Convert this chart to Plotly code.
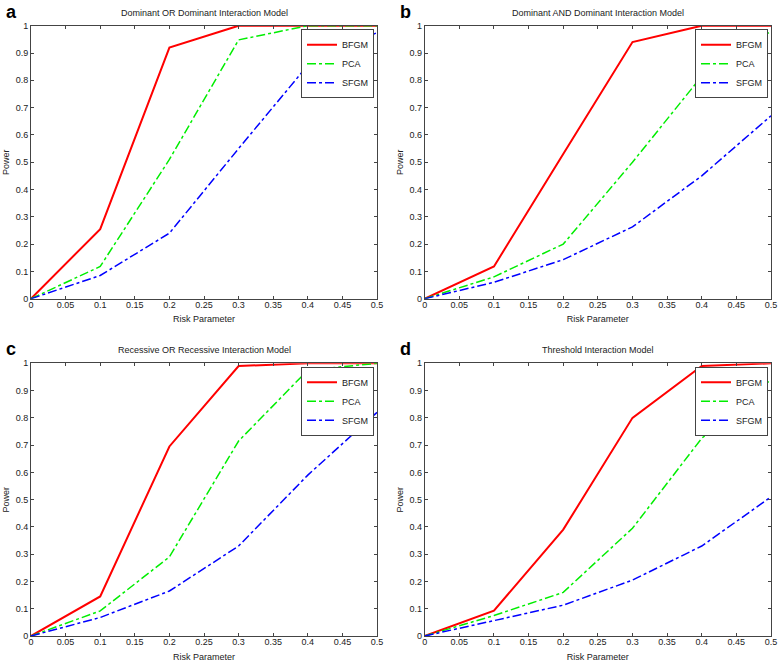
import plotly.graph_objects as go

risk = [0, 0.1, 0.2, 0.3, 0.4, 0.5]
methods = ["BFGM", "PCA", "SFGM"]

titles = [
    "Dominant OR Dominant Interaction Model",
    "Dominant AND Dominant Interaction Model",
    "Recessive OR Recessive Interaction Model",
    "Threshold Interaction Model",
]
letters = ["a", "b", "c", "d"]

a_bfgm = [0, 0.255, 0.92, 1.0, 1.0, 1.0]
a_pca = [0, 0.118, 0.51, 0.948, 1.0, 1.0]
a_sfgm = [0, 0.085, 0.24, 0.55, 0.855, 0.975]

b_bfgm = [0, 0.118, 0.53, 0.94, 1.0, 1.0]
b_pca = [0, 0.08, 0.2, 0.5, 0.815, 0.98]
b_sfgm = [0, 0.06, 0.143, 0.263, 0.45, 0.67]

c_bfgm = [0, 0.145, 0.695, 0.99, 1.0, 1.0]
c_pca = [0, 0.092, 0.29, 0.715, 0.975, 1.0]
c_sfgm = [0, 0.068, 0.165, 0.33, 0.59, 0.82]

d_bfgm = [0, 0.093, 0.39, 0.8, 0.99, 1.0]
d_pca = [0, 0.075, 0.16, 0.395, 0.725, 0.94]
d_sfgm = [0, 0.057, 0.113, 0.205, 0.33, 0.51]

panels = [
    (a_bfgm, a_pca, a_sfgm),
    (b_bfgm, b_pca, b_sfgm),
    (c_bfgm, c_pca, c_sfgm),
    (d_bfgm, d_pca, d_sfgm),
]

W, H = 778, 662
styles = [
    dict(color="#ff0000", width=2, dash="solid"),
    dict(color="#00ee00", width=1.5, dash="dashdot"),
    dict(color="#0000ff", width=1.5, dash="dashdot"),
]

# plot-area pixel boxes (left, right, top, bottom)
boxes = [
    (31, 377, 25.7, 298.7),
    (424.7, 771, 25.7, 298.7),
    (31, 377, 363.3, 636),
    (424.7, 771, 363.3, 636),
]

FONT = "Liberation Sans, Arial, sans-serif"
fig = go.Figure()
annotations = []
layout = {}
for i, (vals, box) in enumerate(zip(panels, boxes)):
    l, r, t, b = box
    ax = "" if i == 0 else str(i + 1)
    leg = "legend" if i == 0 else "legend%d" % (i + 1)
    for m, v, st in zip(methods, vals, styles):
        fig.add_trace(go.Scatter(
            x=risk, y=v, mode="lines", name=m, line=st,
            xaxis="x" + ax, yaxis="y" + ax, legend=leg, showlegend=True,
        ))
    xd = [l / W, r / W]
    yd = [1 - b / H, 1 - t / H]
    common = dict(
        showgrid=False, zeroline=False, showline=True, mirror="ticks",
        linecolor="#444", linewidth=1, ticks="inside", ticklen=3,
        tickcolor="#444", tickfont=dict(size=9, color="#222", family=FONT),
        automargin=False, ticklabeloverflow="allow",
    )
    layout["xaxis" + ax] = dict(
        domain=xd, range=[0, 0.5], dtick=0.05, tick0=0,
        anchor="y" + ax, ticklabelstandoff=-3,
        title=dict(text="Risk Parameter", font=dict(size=9, color="#222", family=FONT), standoff=7),
        **common,
    )
    layout["yaxis" + ax] = dict(
        domain=yd, range=[0, 1], dtick=0.1, tick0=0,
        anchor="x" + ax,
        title=dict(text="Power", font=dict(size=9, color="#222", family=FONT), standoff=4),
        **common,
    )
    layout[leg] = dict(
        x=(r - 3) / W, y=1 - (t + 3.5) / H, xanchor="right", yanchor="top",
        bgcolor="white", bordercolor="#444", borderwidth=1,
        font=dict(size=9, color="#222", family=FONT),
        itemwidth=30, tracegroupgap=0,
    )
    annotations.append(dict(
        text=titles[i], x=(l + r) / 2 / W, y=1 - (t - 13) / H,
        xref="paper", yref="paper", showarrow=False,
        xanchor="center", yanchor="middle",
        font=dict(size=9, color="#222", family=FONT),
    ))
    annotations.append(dict(
        text="<b>%s</b>" % letters[i], x=(l - 27) / W, y=1 - (t - 14) / H,
        xref="paper", yref="paper", showarrow=False,
        xanchor="left", yanchor="middle",
        font=dict(size=18, color="black", family=FONT),
    ))

fig.update_layout(
    width=W, height=H, margin=dict(l=0, r=0, t=0, b=0, autoexpand=False),
    paper_bgcolor="white", plot_bgcolor="white",
    annotations=annotations, **layout,
)
fig.write_html(
    "out.html",
    config={"displayModeBar": False},
    post_script="document.body.style.margin='0px';",
)
